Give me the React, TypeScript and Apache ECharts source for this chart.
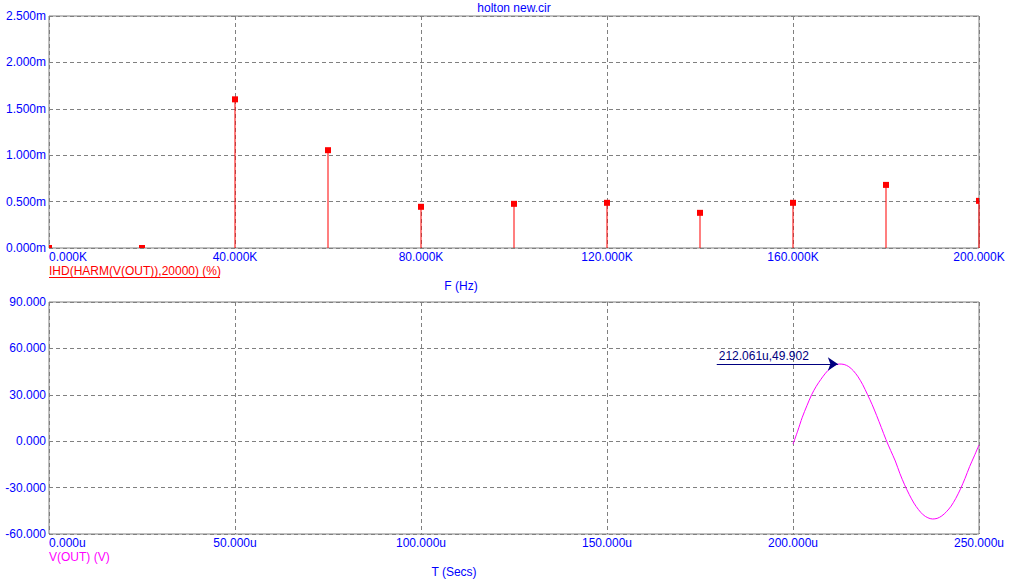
import React, { useEffect, useRef } from 'react';
import * as echarts from 'echarts';

// Top plot: harmonic distortion (IHD) in milli-percent, per frequency
const freqHz = [0, 20000, 40000, 60000, 80000, 100000, 120000, 140000, 160000, 180000, 200000];
const ihdMilli = [0, 0, 1.602, 1.054, 0.444, 0.476, 0.487, 0.379, 0.487, 0.68, 0.508];
const freqTicks = { min: 0, max: 200000, interval: 40000 };
const ihdTicks = { min: 0, max: 2.5, interval: 0.5 };

// Bottom plot: V(OUT) transient, time in microseconds
const timeUs = [
  200, 201.25, 202.5, 203.75, 205, 206.25, 207.5, 208.75, 210, 211.25,
  212.5, 213.75, 215, 216.25, 217.5, 218.75, 220, 221.25, 222.5, 223.75,
  225, 226.25, 227.5, 228.75, 230, 231.25, 232.5, 233.75, 235, 236.25,
  237.5, 238.75, 240, 241.25, 242.5, 243.75, 245, 246.25, 247.5, 248.75, 250,
];
const vOut = [
  -1.9, 6.5, 15.5, 23.0, 30.0, 35.5, 40.0, 44.0, 47.2, 49.2,
  49.9, 49.6, 48.2, 45.5, 41.6, 36.5, 30.3, 23.8, 16.5, 8.8,
  1.0, -6.0, -12.8, -21.0, -28.2, -34.5, -40.0, -44.3, -47.6, -49.5,
  -50.3, -49.9, -48.3, -45.6, -42.0, -37.0, -31.0, -24.0, -16.3, -9.5, -2.4,
];
const timeTicks = { min: 0, max: 250, interval: 50 };
const voltTicks = { min: -60, max: 90, interval: 30 };

// Cursor annotation
const peakT = 212.061;
const peakV = 49.902;
const annotStartT = 179.5;
const annotText = '212.061u,49.902';

const titleText = 'holton new.cir';
const topLegend = 'IHD(HARM(V(OUT)),20000) (%)';
const topXName = 'F (Hz)';
const bottomLegend = 'V(OUT) (V)';
const bottomXName = 'T (Secs)';

export default function App() {
  const ref = useRef<HTMLDivElement>(null);
  useEffect(() => {
    document.body.style.margin = '0';
    const chart = echarts.init(ref.current!, null, { renderer: 'svg' });
    const font = 'Arial, "Liberation Sans", sans-serif';
    const blue = '#0000ff';
    const grey = '#808080';
    const red = '#ff0000';
    const magenta = '#ff00ff';
    const navy = '#000080';

    const splitLine = { show: true, lineStyle: { color: grey, type: [4, 3] as any, width: 1 } };
    const label = (fmt: (v: number) => string, extra: any = {}) => ({
      color: blue,
      fontSize: 12,
      fontFamily: font,
      formatter: fmt,
      ...extra,
    });

    const gridBase = { left: 49, width: 930, height: 232, show: true, borderColor: grey, borderWidth: 1, containLabel: false };

    chart.setOption({
      animation: false,
      backgroundColor: '#ffffff',
      grid: [
        { ...gridBase, top: 16 },
        { ...gridBase, top: 302 },
      ],
      xAxis: [
        {
          gridIndex: 0,
          type: 'value',
          ...freqTicks,
          axisLine: { show: false },
          axisTick: { show: false },
          splitLine,
          axisLabel: label((v: number) => (v / 1000).toFixed(3) + 'K', { margin: 3, alignMinLabel: 'left' }),
        },
        {
          gridIndex: 1,
          type: 'value',
          ...timeTicks,
          axisLine: { show: false },
          axisTick: { show: false },
          splitLine,
          axisLabel: label((v: number) => v.toFixed(3) + 'u', { margin: 3, alignMinLabel: 'left' }),
        },
      ],
      yAxis: [
        {
          gridIndex: 0,
          type: 'value',
          ...ihdTicks,
          axisLine: { show: false },
          axisTick: { show: false },
          splitLine,
          axisLabel: label((v: number) => v.toFixed(3) + 'm', { margin: 3 }),
        },
        {
          gridIndex: 1,
          type: 'value',
          ...voltTicks,
          axisLine: { show: false },
          axisTick: { show: false },
          splitLine,
          axisLabel: label((v: number) => v.toFixed(3), { margin: 3 }),
        },
      ],
      graphic: [
        { type: 'text', x: 514, y: 8, style: { text: titleText, fill: blue, fontSize: 12, fontFamily: font, align: 'center', verticalAlign: 'middle' } },
        { type: 'text', x: 49, y: 271, style: { text: topLegend, fill: red, fontSize: 12, fontFamily: font, align: 'left', verticalAlign: 'middle' } },
        { type: 'line', shape: { x1: 49, y1: 277.5, x2: 220, y2: 277.5 }, style: { stroke: red, lineWidth: 1 } },
        { type: 'text', x: 461, y: 286, style: { text: topXName, fill: blue, fontSize: 12, fontFamily: font, align: 'center', verticalAlign: 'middle' } },
        { type: 'text', x: 49, y: 557, style: { text: bottomLegend, fill: magenta, fontSize: 12, fontFamily: font, align: 'left', verticalAlign: 'middle' } },
        { type: 'text', x: 454, y: 572, style: { text: bottomXName, fill: blue, fontSize: 12, fontFamily: font, align: 'center', verticalAlign: 'middle' } },
      ],
      series: [
        {
          type: 'bar',
          xAxisIndex: 0,
          yAxisIndex: 0,
          barWidth: 1,
          itemStyle: { color: red },
          data: freqHz.map((f, i) => [f, ihdMilli[i]]),
          silent: true,
        },
        {
          type: 'custom',
          xAxisIndex: 0,
          yAxisIndex: 0,
          clip: true,
          silent: true,
          data: freqHz.map((f, i) => [f, ihdMilli[i]]),
          renderItem: (params: any, api: any) => {
            const p = api.coord([api.value(0), api.value(1)]);
            return {
              type: 'rect',
              shape: { x: p[0] - 3, y: p[1] - 3, width: 6, height: 6 },
              style: { fill: red },
            };
          },
        },
        {
          type: 'line',
          xAxisIndex: 1,
          yAxisIndex: 1,
          smooth: 0.3,
          showSymbol: false,
          lineStyle: { color: magenta, width: 1 },
          data: timeUs.map((t, i) => [t, vOut[i]]),
          silent: true,
          markLine: {
            silent: true,
            symbol: ['none', 'arrow'],
            symbolSize: 10,
            lineStyle: { color: navy, width: 1, type: 'solid' },
            label: {
              show: true,
              position: 'insideStartTop',
              formatter: annotText,
              color: navy,
              fontSize: 12,
              fontFamily: font,
              distance: 2,
            },
            data: [[{ coord: [annotStartT, peakV] }, { coord: [peakT, peakV] }]],
          },
        },
      ],
    });
    return () => chart.dispose();
  }, []);
  return <div ref={ref} style={{ position: 'absolute', left: 0, top: 0, width: 1011, height: 585 }} />;
}
